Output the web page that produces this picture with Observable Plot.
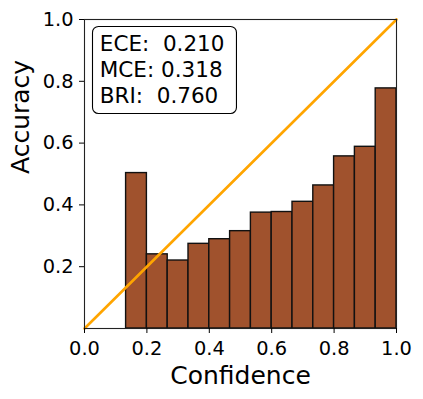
<!DOCTYPE html>
<html>
<head>
<meta charset="utf-8">
<script src="https://cdn.jsdelivr.net/npm/d3@7"></script>
<script src="https://cdn.jsdelivr.net/npm/@observablehq/plot@0.6"></script>
<style>
  html, body { margin: 0; padding: 0; background: #fff; }
  #chart svg { display: block; font-family: "DejaVu Sans", sans-serif; }
</style>
</head>
<body>
<div id="chart"></div>
<script>
// Reliability diagram data (15 equal-width confidence bins)
const numBins = 15;
const binAccuracy = [null, null, 0.503, 0.240, 0.220, 0.274, 0.289, 0.315, 0.375, 0.377, 0.410, 0.463, 0.557, 0.588, 0.777];
const xTicks = [0, 0.2, 0.4, 0.6, 0.8, 1.0];
const yTicks = [0.2, 0.4, 0.6, 0.8, 1.0];
const statLabels = ["ECE:  ", "MCE: ", "BRI:  "];
const statValues = [0.210, 0.318, 0.760];
const xLabel = "Confidence";
const yLabel = "Accuracy";

const bars = binAccuracy
  .map((acc, i) => ({lo: i / numBins, hi: (i + 1) / numBins, acc}))
  .filter(d => d.acc != null);
const diagonal = [{c: 0, a: 0}, {c: 1, a: 1}];
const statText = statLabels.map((l, i) => l + statValues[i].toFixed(3)).join("\n");

const fmt = d3.format(".1f");
const chart = Plot.plot({
  width: 423,
  height: 399,
  marginLeft: 84,
  marginRight: 27,
  marginTop: 19,
  marginBottom: 71,
  style: {fontFamily: "DejaVu Sans, sans-serif", color: "#000", background: "#fff"},
  x: {domain: [0, 1]},
  y: {domain: [0, 1]},
  marks: [
    Plot.rectY(bars, {x1: "lo", x2: "hi", y1: 0, y2: "acc", fill: "#a0522d", stroke: "#111", strokeWidth: 1.4, inset: 0}),
    Plot.line(diagonal, {x: "c", y: "a", stroke: "#ffa500", strokeWidth: 2.6}),
    Plot.frame({stroke: "#222", strokeWidth: 1.1}),
    Plot.axisX({ticks: xTicks, tickFormat: fmt, tickSize: 5, tickPadding: 8, fontSize: 19.4, label: null}),
    Plot.axisY({ticks: yTicks, tickFormat: fmt, tickSize: 5, tickPadding: 6, fontSize: 19.4, label: null}),
    Plot.text([xLabel], {frameAnchor: "bottom", text: d => d, dy: 55.3, lineAnchor: "bottom", fontSize: 25}),
    Plot.text([yLabel], {frameAnchor: "left", text: d => d, rotate: -90, dx: -56, lineAnchor: "bottom", fontSize: 25}),
    Plot.text([statText], {frameAnchor: "top-left", text: d => d, textAnchor: "start", lineAnchor: "top", dx: 15.3, dy: 13, fontSize: 21.5, lineHeight: 1.21, className: "stats"})
  ]
});
document.getElementById("chart").appendChild(chart);

// rounded box behind the statistics text
const svg = d3.select(chart);
const statG = svg.select("g.stats");
statG.selectAll("text").style("white-space", "pre").attr("xml:space", "preserve");
const node = statG.node();
const bb = node.getBBox();
const ctm = node.getCTM();
const x0 = bb.x + (ctm ? ctm.e : 0), y0 = bb.y + (ctm ? ctm.f : 0);
svg.insert("rect", "g.stats")
  .attr("x", x0 - 7.3)
  .attr("y", y0 - 4.5)
  .attr("width", bb.width + 19.3)
  .attr("height", bb.height + 10)
  .attr("rx", 6)
  .attr("fill", "#fff")
  .attr("stroke", "#000")
  .attr("stroke-width", 1.1);
</script>
</body>
</html>
